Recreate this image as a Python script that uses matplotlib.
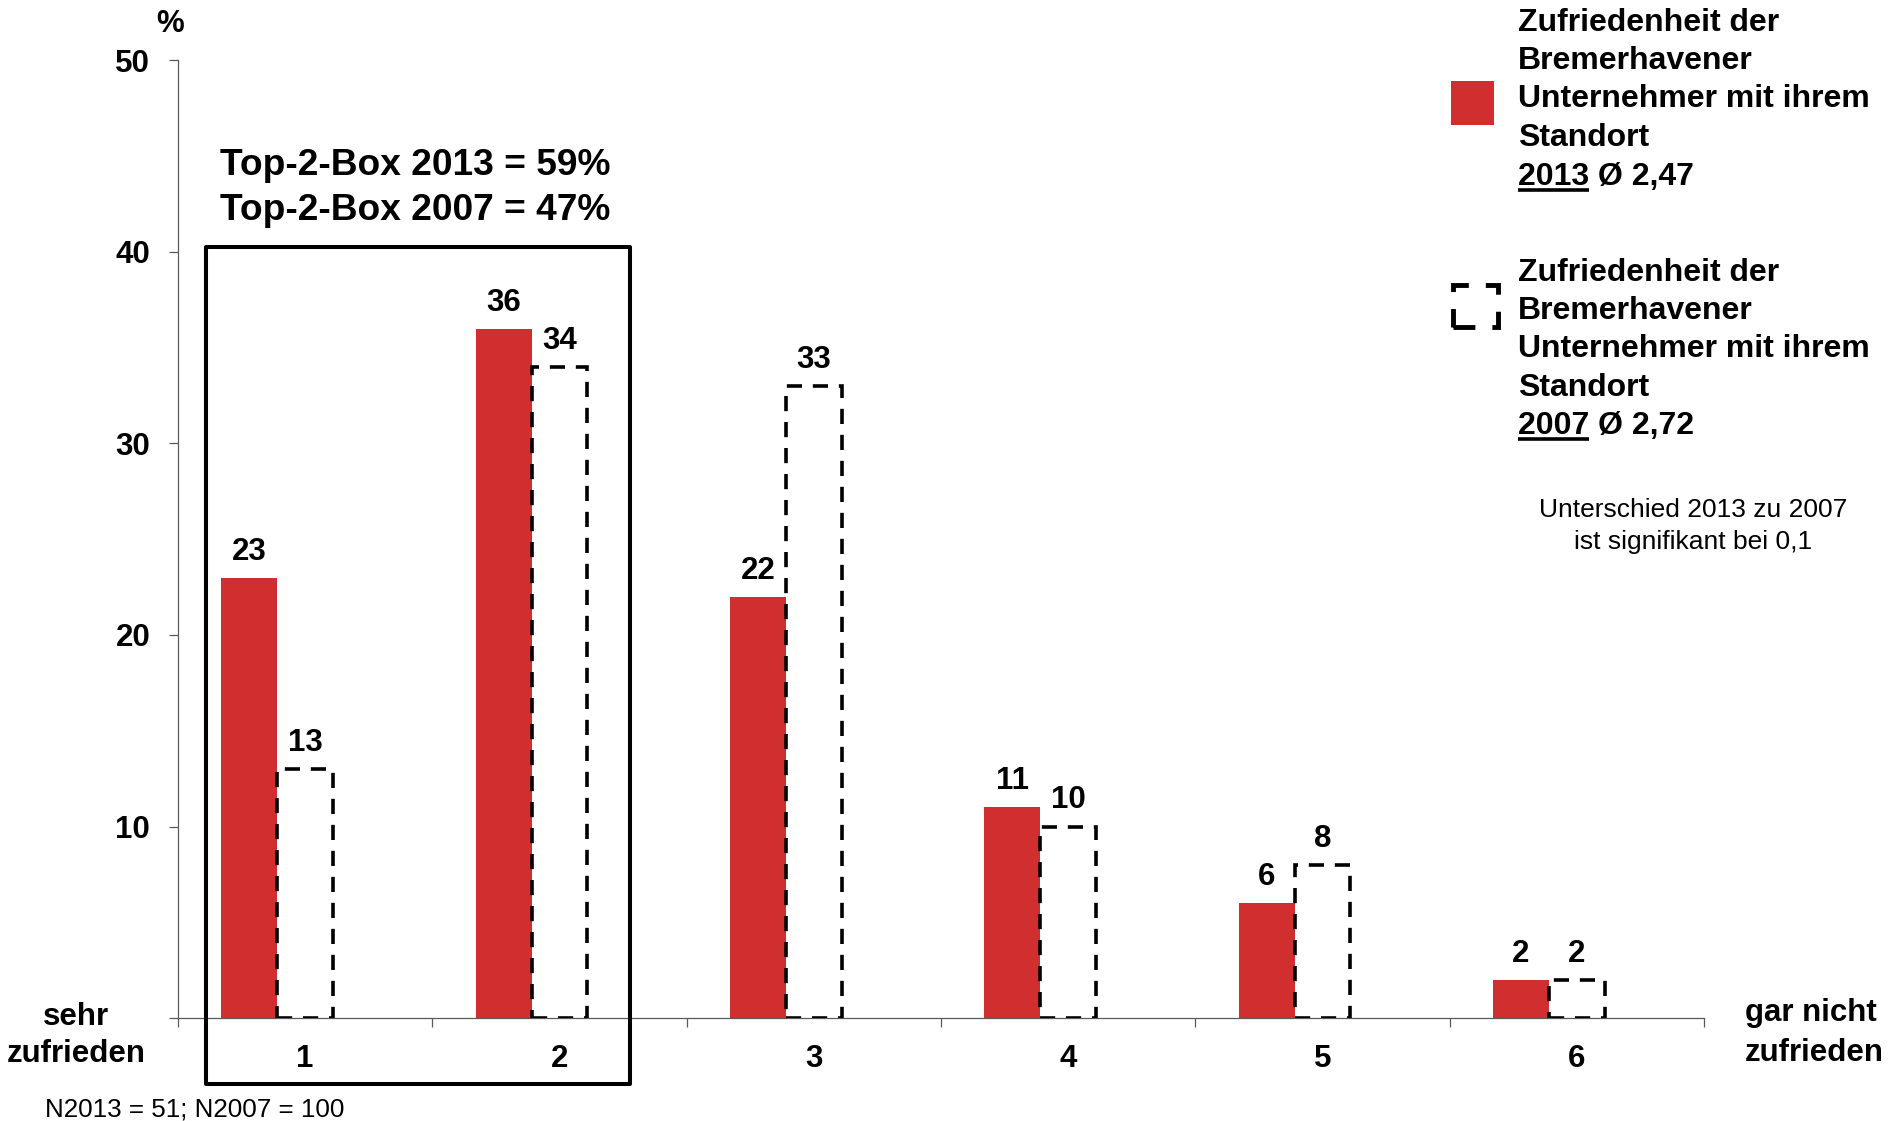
import matplotlib
matplotlib.use("Agg")
import matplotlib.pyplot as plt
from matplotlib.patches import Rectangle
from matplotlib.lines import Line2D
import numpy as np

plt.rcParams['font.family'] = ['Liberation Sans', 'DejaVu Sans']

# Satisfaction scale 1 (sehr zufrieden) .. 6 (gar nicht zufrieden)
categories = ["1", "2", "3", "4", "5", "6"]
share_2013 = [23, 36, 22, 11, 6, 2]
share_2007 = [13, 34, 33, 10, 8, 2]
y_ticks = [0, 10, 20, 30, 40, 50]
y_tick_labels = ["", "10", "20", "30", "40", "50"]

legend_lines = ["Zufriedenheit der", "Bremerhavener", "Unternehmer mit ihrem", "Standort"]
mean_2013 = ("2013", " Ø 2,47")
mean_2007 = ("2007", " Ø 2,72")
top2_lines = ["Top-2-Box 2013 = 59%", "Top-2-Box 2007 = 47%"]
note_lines = ["Unterschied 2013 zu 2007", "ist signifikant bei 0,1"]
sample_note = "N2013 = 51; N2007 = 100"

RED = "#d12e30"
AXIS_GREY = "#5a5a5a"
W, H = 1891, 1121
BOLD = 22.5

fig = plt.figure(figsize=(W / 100, H / 100), dpi=100)
ax = fig.add_axes([178 / W, (H - 1018) / H, (1704 - 178) / W, (1018 - 60.5) / H])

x = np.arange(1, len(categories) + 1)
bw = 0.22
bars13 = ax.bar(x - bw, share_2013, width=bw, color=RED, linewidth=0, zorder=2)
bars07 = ax.bar(x, share_2007, width=bw, facecolor="none", edgecolor="black",
                linewidth=2.6, linestyle=(0, (4.2, 3.0)), zorder=3)

for bars, vals in ((bars13, share_2013), (bars07, share_2007)):
    for b, v in zip(bars, vals):
        ax.annotate(str(v), (b.get_x() + b.get_width() / 2, v),
                    xytext=(0, 18), textcoords="offset pixels",
                    ha="center", va="baseline", fontsize=BOLD, fontweight="bold")

ax.set_xlim(0.5, len(categories) + 0.5)
ax.set_ylim(0, 50)
for s in ("top", "right"):
    ax.spines[s].set_visible(False)
for s in ("left", "bottom"):
    ax.spines[s].set_color(AXIS_GREY)
    ax.spines[s].set_linewidth(0.9)

ax.set_yticks(y_ticks)
ax.set_yticklabels(y_tick_labels, fontsize=BOLD, fontweight="bold")
ax.tick_params(axis="y", length=6.5, width=0.9, color=AXIS_GREY, pad=13.5)

ax.set_xticks(x)
ax.set_xticklabels(categories, fontsize=BOLD, fontweight="bold")
ax.set_xticks(np.arange(0.5, len(categories) + 1, 1.0), minor=True)
ax.tick_params(axis="x", which="major", length=0, pad=19)
ax.tick_params(axis="x", which="minor", length=6.5, width=0.9, color=AXIS_GREY)

# Frame around the two best ratings (Top-2-Box)
ax.add_patch(Rectangle((0.61, -3.45), 2.277 - 0.61, 40.26 + 3.45, fill=False,
                       edgecolor="black", linewidth=2.9, joinstyle="round",
                       clip_on=False, zorder=4))


def ftext(px, py, s, **kw):
    return fig.text(px / W, 1 - py / H, s, va="baseline", **kw)


ftext(170, 32, "%", ha="center", fontsize=BOLD, fontweight="bold")
for line, base in zip(top2_lines, (175, 220)):
    ftext(220, base, line, ha="left", fontsize=26.7, fontweight="bold")

ftext(76, 1025, "sehr", ha="center", fontsize=BOLD, fontweight="bold")
ftext(76, 1062, "zufrieden", ha="center", fontsize=BOLD, fontweight="bold")
ftext(1745, 1021, "gar nicht", ha="left", fontsize=BOLD, fontweight="bold")
ftext(1745, 1061, "zufrieden", ha="left", fontsize=BOLD, fontweight="bold")
ftext(45, 1117, sample_note, ha="left", fontsize=18.7)
for line, base in zip(note_lines, (517, 549)):
    ftext(1693, base, line, ha="center", fontsize=19)

# Legend: swatches drawn in figure pixels
fig.patches.append(Rectangle((1451 / W, 1 - 125 / H), 43 / W, 44 / H,
                             transform=fig.transFigure, facecolor=RED,
                             edgecolor="none", figure=fig))
fig.patches.append(Rectangle((1453 / W, 1 - 327 / H), 45 / W, 42 / H,
                             transform=fig.transFigure, facecolor="none",
                             edgecolor="black", linewidth=3.5,
                             linestyle=(0, (4.5, 3.5)), figure=fig))

LEG = 23
underlined = []
for bases, (year, rest) in (((31, 69, 107, 146, 185), mean_2013),
                            ((281, 319, 357, 396, 434), mean_2007)):
    for line, base in zip(legend_lines, bases[:4]):
        ftext(1518, base, line, ha="left", fontsize=LEG, fontweight="bold")
    ftext(1518, bases[4], year + rest, ha="left", fontsize=LEG, fontweight="bold")
    probe = ftext(1518, bases[4], year, ha="left", fontsize=LEG,
                  fontweight="bold", alpha=0)
    underlined.append((probe, bases[4] + 5))

fig.canvas.draw()
renderer = fig.canvas.get_renderer()
for probe, uy in underlined:
    bb = probe.get_window_extent(renderer)
    fig.lines.append(Line2D([bb.x0 / W, bb.x1 / W], [1 - uy / H, 1 - uy / H],
                            transform=fig.transFigure, color="black",
                            linewidth=2.6, solid_capstyle="butt", figure=fig))
    probe.remove()

fig.savefig("out.png", dpi=100)
